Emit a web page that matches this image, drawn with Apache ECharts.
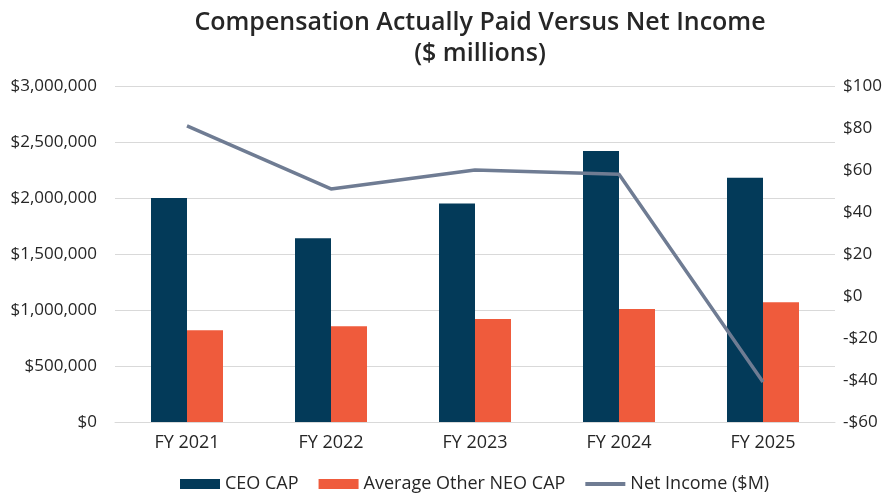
<!DOCTYPE html>
<html>
<head>
<meta charset="utf-8">
<script src="https://cdn.jsdelivr.net/npm/echarts@6/dist/echarts.min.js"></script>
<style>html,body{margin:0;padding:0;background:#fff}#c{width:896px;height:500px}</style>
</head>
<body>
<div id="c"></div>
<script>
const categories = ['FY 2021', 'FY 2022', 'FY 2023', 'FY 2024', 'FY 2025'];
const ceoCap = [2000000, 1640000, 1950000, 2420000, 2180000];
const neoCap = [820000, 855000, 920000, 1010000, 1070000];
const netIncome = [81, 51, 60, 58, -41];
const seriesNames = ['CEO CAP', 'Average Other NEO CAP', 'Net Income ($M)'];

const FONT = '"Open Sans", "Noto Sans", sans-serif';
const chart = echarts.init(document.getElementById('c'), null, {renderer: 'canvas'});
chart.setOption({
  animation: false,
  backgroundColor: '#ffffff',
  title: {
    text: 'Compensation Actually Paid Versus Net Income\n($ millions)',
    left: 475, textAlign: 'center', top: 2,
    textStyle: {fontFamily: FONT, fontSize: 25, fontWeight: 600, color: '#262626', lineHeight: 31}
  },
  legend: {
    bottom: 2, left: 175,
    itemWidth: 40, itemHeight: 10, itemGap: 20,
    textStyle: {fontFamily: FONT, fontSize: 18, color: '#262626'},
    data: [
      {name: seriesNames[0], icon: 'rect'},
      {name: seriesNames[1], icon: 'rect'},
      {name: seriesNames[2], icon: 'path://M0,0 L0,0 M0,3 L40,3 L40,7 L0,7 Z M0,10 L0,10',
       itemStyle: {color: '#6f7c93'}}
    ]
  },
  grid: {left: 115, right: 61, top: 86, bottom: 78, containLabel: false},
  xAxis: {
    type: 'category', data: categories,
    axisLine: {show: true, lineStyle: {color: '#d9d9d9'}},
    axisTick: {show: false},
    axisLabel: {fontFamily: FONT, fontSize: 18, color: '#262626', margin: 12}
  },
  yAxis: [
    {
      type: 'value', min: 0, max: 3000000, interval: 500000,
      axisLine: {show: false}, axisTick: {show: false},
      splitLine: {lineStyle: {color: '#d9d9d9', width: 1}},
      axisLabel: {
        fontFamily: FONT, fontSize: 17, color: '#262626', margin: 18,
        formatter: v => '$' + v.toLocaleString('en-US')
      }
    },
    {
      type: 'value', min: -60, max: 100, interval: 20, position: 'right',
      axisLine: {show: false}, axisTick: {show: false},
      splitLine: {show: false},
      axisLabel: {
        fontFamily: FONT, fontSize: 17, color: '#262626', margin: 8,
        formatter: v => (v < 0 ? '-$' + Math.abs(v) : '$' + v)
      }
    }
  ],
  series: [
    {
      name: seriesNames[0], type: 'bar', data: ceoCap, yAxisIndex: 0,
      barWidth: 36, barGap: '0%',
      itemStyle: {color: '#033a59'}
    },
    {
      name: seriesNames[1], type: 'bar', data: neoCap, yAxisIndex: 0,
      barWidth: 36, barGap: '0%',
      itemStyle: {color: '#ef5b3c'}
    },
    {
      name: seriesNames[2], type: 'line', data: netIncome, yAxisIndex: 1,
      symbol: 'none', lineStyle: {color: '#6f7c93', width: 3.5},
      itemStyle: {color: '#6f7c93'}
    }
  ]
});
</script>
</body>
</html>
